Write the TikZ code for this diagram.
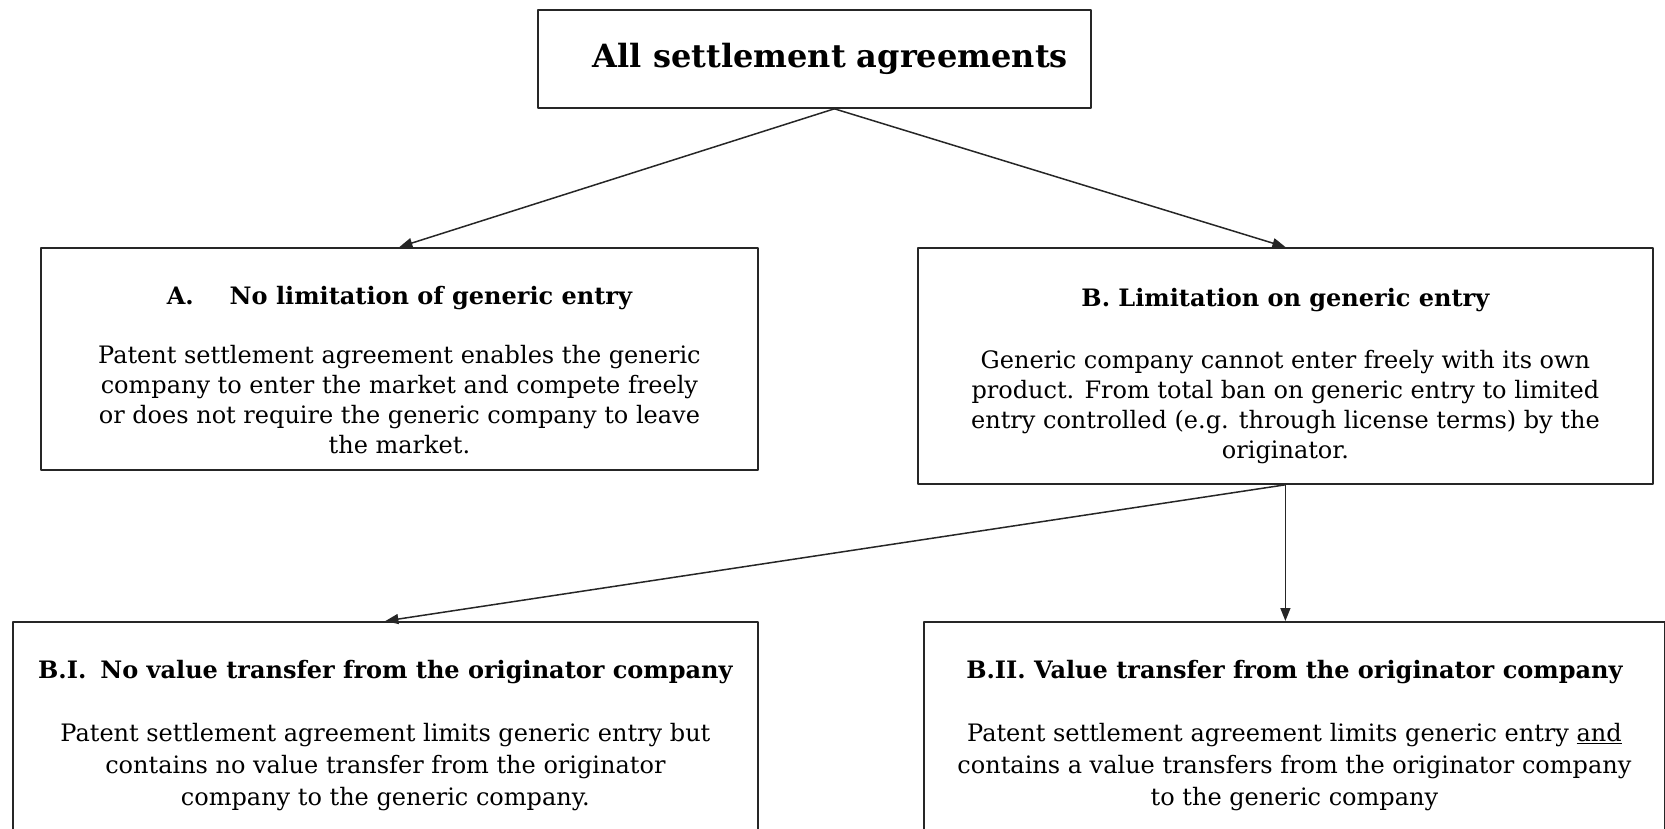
\documentclass[tikz,border=0pt]{standalone}
\usepackage{fontspec}
\setmainfont{DejaVu Serif}
\usetikzlibrary{positioning,arrows.meta,calc}

\begin{document}
\begin{tikzpicture}[x=1pt,y=-1pt,line cap=round,line join=round,
    box/.style={draw=black!85,line width=1.8pt,rectangle,inner sep=0pt,anchor=north west},
    head/.style={font=\fontsize{24}{30}\selectfont\bfseries,inner sep=0pt,anchor=north},
    body/.style={font=\fontsize{24}{30}\selectfont,align=center,inner sep=0pt,anchor=north},
    link/.style={-{Triangle[length=13pt,width=10pt]},line width=1.5pt,draw=black!85}]

    \useasboundingbox (0,0) rectangle (1665,829);
    \clip (0,0) rectangle (1665,829);

    % boxes
    \node[box,minimum width=553pt,minimum height=98pt] (all) at (537,9) {};
    \node[box,minimum width=717pt,minimum height=222pt] (boxA) at (40,247) {};
    \node[box,minimum width=735pt,minimum height=236pt] (boxB) at (917,247) {};
    \node[box,minimum width=745pt,minimum height=260pt] (boxBI) at (12,621) {};
    \node[box,minimum width=741pt,minimum height=260pt] (boxBII) at (923,621) {};
    \coordinate (apex) at ($(all.south)+(20,0)$);

    % texts
    \node[font=\fontsize{32}{38}\selectfont\bfseries] (allTitle) at ($(all.center)+(16,0)$) {All settlement agreements};

    \node[head,below=39pt of boxA.north] (titleA) {A.\hspace{36pt}No limitation of generic entry};
    \node[body,below=98pt of boxA.north] (textA) {Patent settlement agreement enables the generic\\
        company to enter the market and compete freely\\
        or does not require the generic company to leave\\
        the market.};

    \node[head,below=41pt of boxB.north] (titleB) {B. Limitation on generic entry};
    \node[body,below=103pt of boxB.north] (textB) {Generic company cannot enter freely with its own\\
        product. From total ban on generic entry to limited\\
        entry controlled (e.g. through license terms) by the\\
        originator.};

    \node[head,below=39pt of boxBI.north] (titleBI) {B.I.\hspace{14pt}No value transfer from the originator company};
    \node[body,font=\fontsize{24}{32}\selectfont,below=102pt of boxBI.north] (textBI) {Patent settlement agreement limits generic entry but\\
        contains no value transfer from the originator\\
        company to the generic company.};

    \node[head,below=39pt of boxBII.north] (titleBII) {B.II. Value transfer from the originator company};
    \node[body,font=\fontsize{24}{32}\selectfont,below=102pt of boxBII.north] (textBII) {Patent settlement agreement limits generic entry \underline{and}\\
        contains a value transfers from the originator company\\
        to the generic company};

    % arrows
    \draw[link] (apex) -- (boxA.north);
    \draw[link] (apex) -- (boxB.north);
    \draw[link] (boxB.south) -- (boxBI.north);
    \draw[link] (boxB.south) -- (boxB.south |- boxBII.north);
\end{tikzpicture}
\end{document}
